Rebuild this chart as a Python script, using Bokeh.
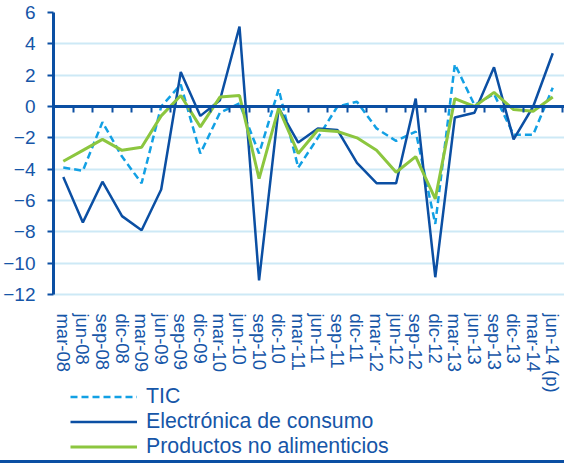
from bokeh.plotting import figure
from bokeh.models import Range1d, LinearAxis, FixedTicker, Legend, LegendItem, ColumnDataSource, Div
from bokeh.layouts import column
from bokeh.embed import file_html
from bokeh.resources import INLINE

categories = ["mar-08", "jun-08", "sep-08", "dic-08", "mar-09", "jun-09", "sep-09", "dic-09",
              "mar-10", "jun-10", "sep-10", "dic-10", "mar-11", "jun-11", "sep-11", "dic-11",
              "mar-12", "jun-12", "sep-12", "dic-12", "mar-13", "jun-13", "sep-13", "dic-13",
              "mar-14", "jun-14 (p)"]
tic = [-3.9, -4.1, -1.0, -3.2, -4.9, 0.0, 1.4, -3.0, -0.4, 0.2, -3.0, 1.1, -3.9,
       -2.0, 0.0, 0.3, -1.4, -2.2, -1.6, -7.5, 2.7, 0.1, 0.8, -1.8, -1.8, 1.2]
electronica = [-4.5, -7.4, -4.8, -7.0, -7.9, -5.3, 2.2, -0.6, 0.4, 5.1, -11.1, -0.1, -2.3,
               -1.4, -1.5, -3.6, -4.9, -4.9, 0.5, -10.9, -0.7, -0.4, 2.5, -2.1, 0.0, 3.4]
productos = [-3.5, -2.8, -2.1, -2.8, -2.6, -0.6, 0.7, -1.3, 0.6, 0.7, -4.6, -0.1, -3.0,
             -1.5, -1.6, -2.0, -2.8, -4.2, -3.2, -5.9, 0.5, 0.0, 0.9, -0.2, -0.3, 0.6]
y_ticks = [-12, -10, -8, -6, -4, -2, 0, 2, 4, 6]
series_names = ["TIC", "Electrónica de consumo", "Productos no alimenticios"]

DARK = "#0b4fa3"
LIGHT = "#12a0e4"
GREEN = "#8cc63f"
GRID = "#cde9f6"
TEXT = "#1656a8"
FONT = "Liberation Sans"

Y_MIN, Y_MAX = -12, 6
Y_FRAME_BOTTOM = -22.6   # extra room under the axis for labels and legend

n = len(categories)
xs = list(range(n))
src = ColumnDataSource(dict(x=xs, tic=tic, elec=electronica, prod=productos))

p = figure(width=564, height=460, x_range=Range1d(-0.5, n - 0.4),
           y_range=Range1d(Y_FRAME_BOTTOM, Y_MAX),
           x_axis_location=None,
           output_backend="svg", toolbar_location=None,
           min_border_left=49, min_border_right=0, min_border_top=12, min_border_bottom=0)
p.outline_line_color = None
p.background_fill_color = "white"
p.border_fill_color = "white"

# category label axis, pinned under the -12 gridline
xa = LinearAxis(fixed_location=Y_MIN, ticker=FixedTicker(ticks=xs))
xa.major_label_overrides = {i: c for i, c in enumerate(categories)}
xa.major_label_orientation = "vertical"
xa.axis_line_color = None
xa.major_tick_line_color = None
xa.minor_tick_line_color = None
xa.major_label_text_font = FONT
xa.major_label_text_font_size = "18.5px"
xa.major_label_text_color = TEXT
xa.major_label_standoff = 13
p.add_layout(xa, "below")

# zero axis with ticks between categories
za = LinearAxis(fixed_location=0, ticker=FixedTicker(ticks=[i - 0.5 for i in range(n + 1)]))
za.major_label_text_font_size = "0px"
za.major_label_text_alpha = 0
za.axis_line_color = DARK
za.axis_line_width = 3
za.major_tick_line_color = DARK
za.major_tick_line_width = 2
za.major_tick_out = 6
za.major_tick_in = 0
za.minor_tick_line_color = None
p.add_layout(za, "below")

ya = p.yaxis[0]
ya.ticker = FixedTicker(ticks=y_ticks)
ya.bounds = (Y_MIN, Y_MAX)
ya.axis_line_color = DARK
ya.axis_line_width = 3
ya.major_tick_line_color = DARK
ya.major_tick_line_width = 2
ya.major_tick_out = 6
ya.major_tick_in = 0
ya.minor_tick_line_color = None
ya.major_label_text_font = FONT
ya.major_label_text_font_size = "19px"
ya.major_label_text_color = TEXT
ya.major_label_standoff = 12

p.xgrid.visible = False
p.ygrid.ticker = FixedTicker(ticks=y_ticks)
p.ygrid.grid_line_color = GRID
p.ygrid.grid_line_width = 2

r_tic = p.line("x", "tic", source=src, color=LIGHT, line_width=2.5, line_dash="7 4")
r_elec = p.line("x", "elec", source=src, color=DARK, line_width=2.5)
r_prod = p.line("x", "prod", source=src, color=GREEN, line_width=3)

legend = Legend(items=[LegendItem(label=series_names[0], renderers=[r_tic]),
                       LegendItem(label=series_names[1], renderers=[r_elec]),
                       LegendItem(label=series_names[2], renderers=[r_prod])],
                location=(17, 1))
legend.border_line_color = None
legend.background_fill_alpha = 0
legend.label_text_font = FONT
legend.label_text_font_size = "21.3px"
legend.label_text_color = TEXT
legend.glyph_width = 67
legend.glyph_height = 25
legend.label_height = 25
legend.label_standoff = 9
legend.spacing = 0
legend.padding = 0
legend.margin = 0
p.add_layout(legend, "center")

rule = Div(width=564, height=3, margin=0,
           styles={"background-color": DARK, "height": "3px", "overflow": "hidden",
                   "line-height": "0"})
layout = column(p, rule, spacing=0)

open("out.html", "w").write(file_html(layout, INLINE))
